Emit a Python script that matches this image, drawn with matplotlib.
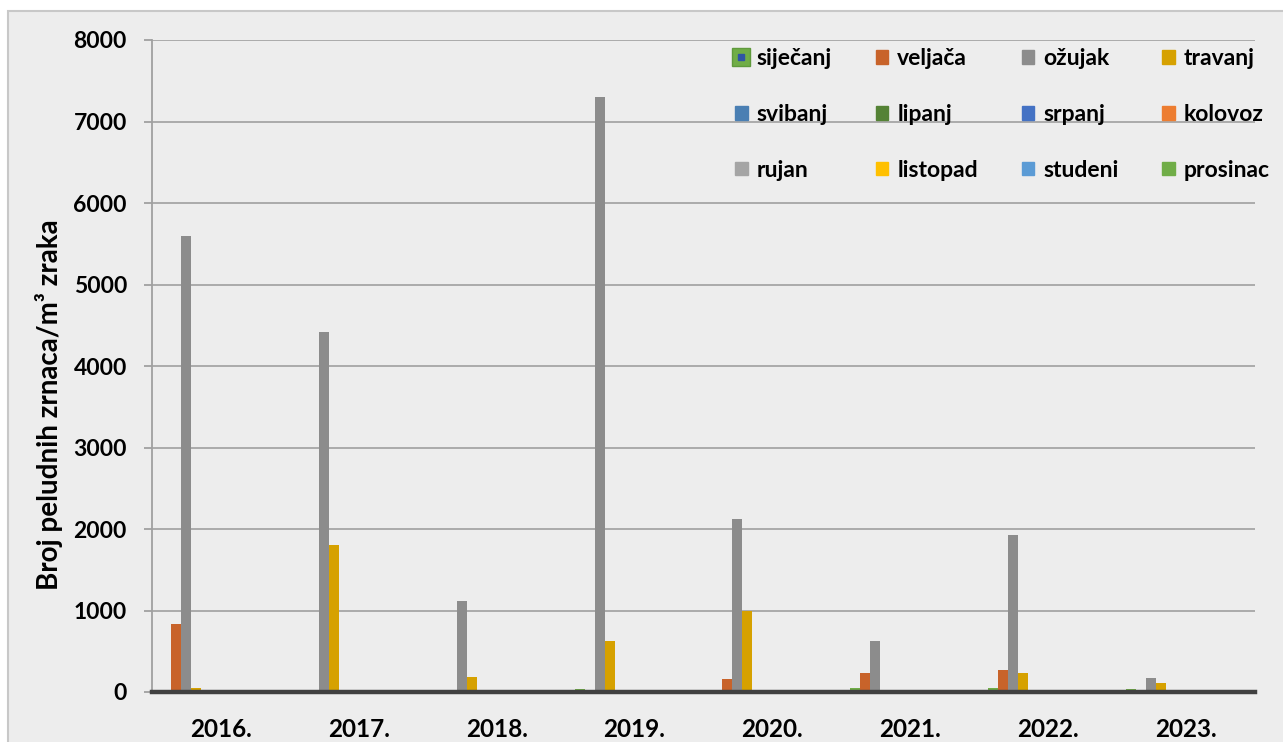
import matplotlib
matplotlib.use('Agg')
import matplotlib.pyplot as plt
import matplotlib.patches as mpatches
from matplotlib.lines import Line2D
from matplotlib.legend_handler import HandlerTuple
import numpy as np

plt.rcParams['font.family'] = ['Lato', 'DejaVu Sans']
plt.rcParams['font.weight'] = 'bold'

years = ['2016.', '2017.', '2018.', '2019.', '2020.', '2021.', '2022.', '2023.']
months = ['siječanj', 'veljača', 'ožujak', 'travanj', 'svibanj', 'lipanj',
          'srpanj', 'kolovoz', 'rujan', 'listopad', 'studeni', 'prosinac']
colors = ['#70ad47', '#c8632a', '#8c8c8c', '#d6a100', '#4a7fb3', '#548235',
          '#4472c4', '#ed7d31', '#a5a5a5', '#ffc000', '#5b9bd5', '#70ad47']

# values per month, one entry per year
sijecanj = [0, 0, 0, 33, 30, 50, 50, 33]
veljaca = [840, 0, 0, 0, 160, 230, 270, 0]
ozujak = [5600, 4420, 1120, 7300, 2120, 620, 1930, 170]
travanj = [55, 1800, 180, 620, 1000, 0, 230, 115]
ostali = [0, 0, 0, 0, 0, 0, 0, 0]

series = [sijecanj, veljaca, ozujak, travanj] + [ostali] * 8

fig = plt.figure(figsize=(12.83, 7.42), dpi=100, facecolor='white')
fig.patches.append(mpatches.Rectangle((8 / 1283, -0.01), 1.0, 1 - 11 / 742 + 0.01,
                                      transform=fig.transFigure, facecolor='#ededed',
                                      edgecolor='#c8c8c8', linewidth=1.5, zorder=-10))

ax = fig.add_axes([152 / 1283, 1 - 692 / 742, (1255 - 152) / 1283, (692 - 40) / 742])
ax.set_facecolor('none')

X = np.arange(len(years))
w = 0.0725
handles = []
for j, (m, vals) in enumerate(zip(months, series)):
    ax.bar(X + (j - 5.5) * w, vals, width=w, color=colors[j], zorder=3)
    if j == 0:
        h = (Line2D([], [], marker='s', linestyle='none', markersize=12.5,
                    markerfacecolor=colors[0], markeredgecolor='#5f9a3c'),
             Line2D([], [], marker='s', linestyle='none', markersize=3.8,
                    markerfacecolor='#2f55a4', markeredgecolor='#2f55a4'))
    else:
        h = mpatches.Patch(color=colors[j])
    handles.append(h)

ax.set_xlim(-0.5, 7.5)
ax.set_ylim(0, 8000)
ax.set_yticks(np.arange(0, 8001, 1000))
ax.set_xticks(X)
ax.set_xticklabels(years)
ax.yaxis.grid(True, color='#a6a6a6', linewidth=1.3, zorder=0)
ax.set_axisbelow(True)

for s in ['top', 'right']:
    ax.spines[s].set_visible(False)
ax.spines['left'].set_color('#a0a0a0')
ax.spines['left'].set_linewidth(1.3)
ax.spines['bottom'].set_color('#404040')
ax.spines['bottom'].set_linewidth(3.2)
ax.spines['bottom'].set_zorder(4)

ax.tick_params(axis='y', direction='out', length=6, width=1.3, color='#a0a0a0',
               pad=12, labelsize=16.5)
ax.tick_params(axis='x', length=0, pad=19, labelsize=17.5)
for lbl in ax.get_xticklabels() + ax.get_yticklabels():
    lbl.set_fontweight('bold')

ax.set_ylabel('Broj peludnih zrnaca/m³ zraka', fontsize=20, fontweight='bold')
ax.yaxis.set_label_coords(-0.081, 0.44)

order = [0, 4, 8, 1, 5, 9, 2, 6, 10, 3, 7, 11]
fig.legend([handles[i] for i in order], [months[i] for i in order],
           ncol=4, loc='upper left', bbox_to_anchor=(735 / 1283, 1 - 48 / 742),
           frameon=False, prop={'weight': 'bold', 'size': 16.5},
           handlelength=0.55, handleheight=0.55, handletextpad=0.4,
           labelspacing=1.52, columnspacing=1.9, borderpad=0, borderaxespad=0,
           handler_map={tuple: HandlerTuple(ndivide=1)})

plt.savefig('out.png', dpi=100, facecolor=fig.get_facecolor())
plt.close()
